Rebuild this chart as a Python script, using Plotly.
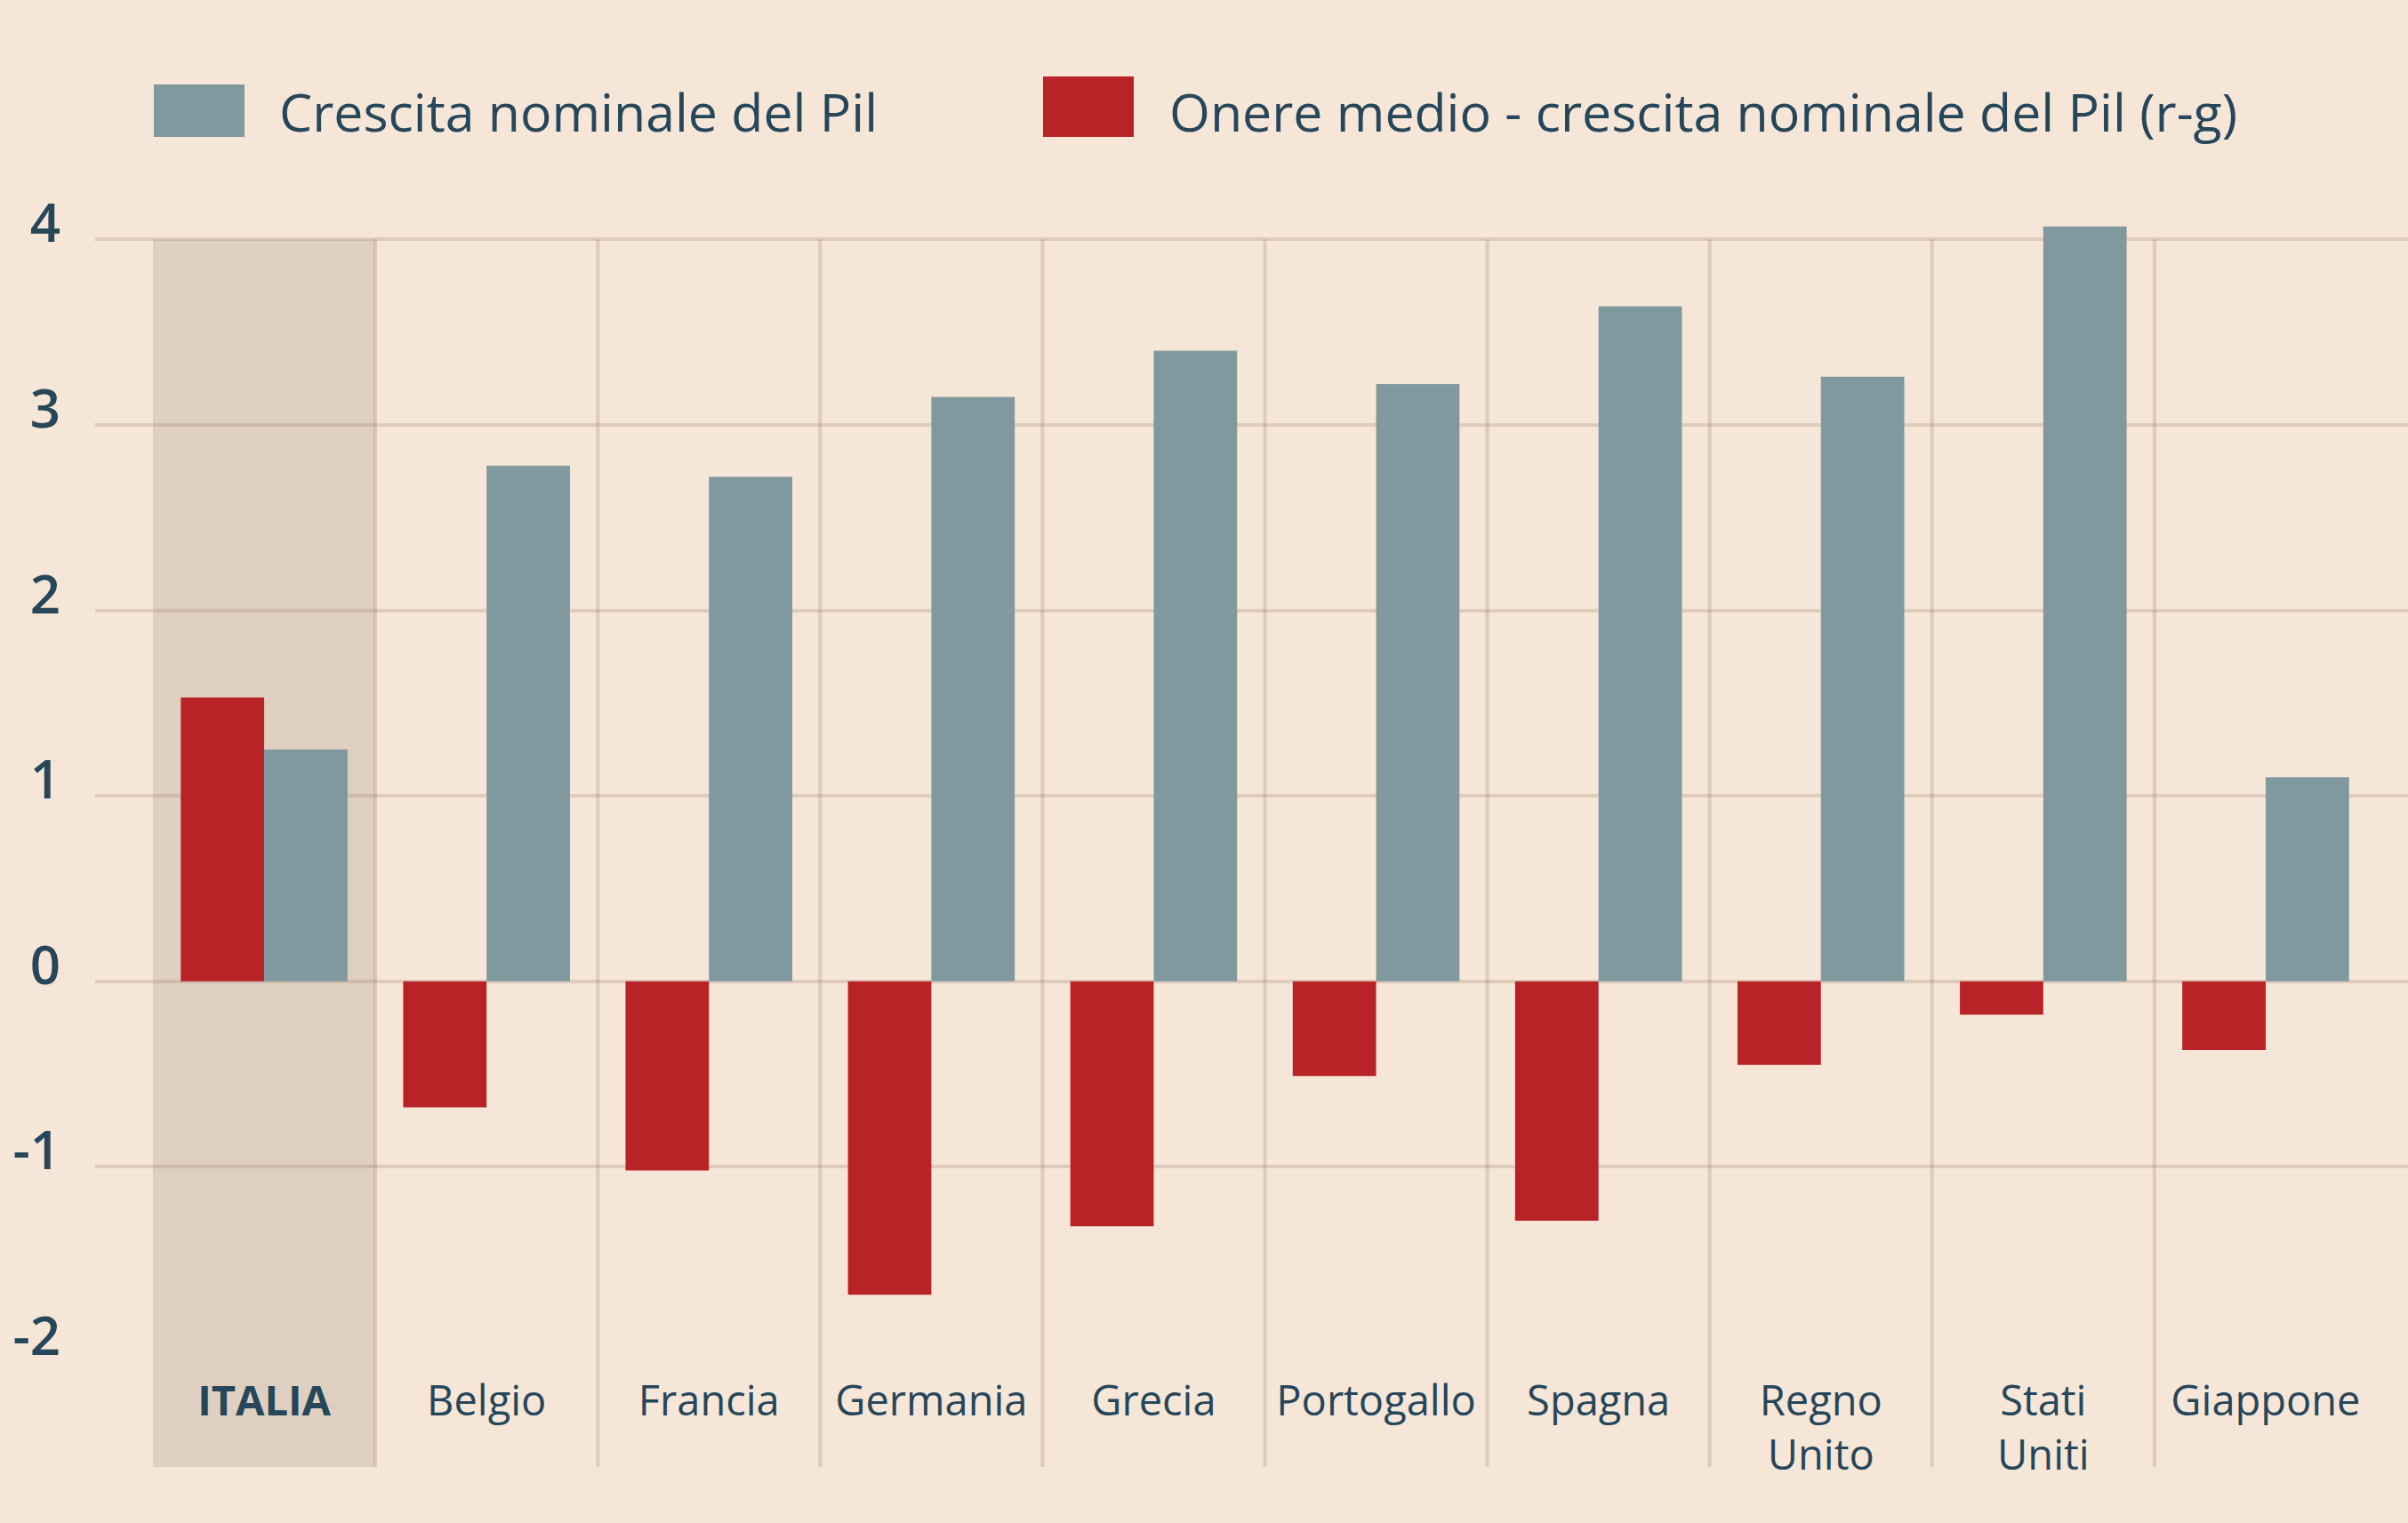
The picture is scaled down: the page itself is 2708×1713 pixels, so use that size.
import plotly.graph_objects as go

categories = ["<b>ITALIA</b>", "Belgio", "Francia", "Germania", "Grecia", "Portogallo",
              "Spagna", "Regno<br>Unito", "Stati<br>Uniti", "Giappone"]
crescita = [1.25, 2.78, 2.72, 3.15, 3.40, 3.22, 3.64, 3.26, 4.07, 1.10]
onere_rg = [1.53, -0.68, -1.02, -1.69, -1.32, -0.51, -1.29, -0.45, -0.18, -0.37]
name_crescita = "Crescita nominale del Pil"
name_onere = "Onere medio - crescita nominale del Pil (r-g)"
y_ticks = [-2, -1, 0, 1, 2, 3, 4]

BG = "#F6E6D7"
TEXT = "#26465A"
GRAY = "#7F999F"
RED = "#B82327"
GRID = "rgba(150,125,105,0.25)"
BAND = "#DFCFC1"
FONT = "Open Sans"

W, H = 2708, 1713
y_min, y_max = -2.0, 4.15
x_min, x_max = -0.76, len(categories) - 1 + 0.64
ml, mr, mt, mb = 107, 0, 238, 192
plot_w = W - ml - mr
plot_h = H - mt - mb

def px_x(p):  # pixel -> paper
    return (p - ml) / plot_w

def px_y(p):
    return (H - mb - p) / plot_h

idx = list(range(len(categories)))

fig = go.Figure()
fig.add_trace(go.Bar(x=idx, y=onere_rg, name=name_onere, marker=dict(color=RED, line=dict(width=0)),
                     showlegend=False))
fig.add_trace(go.Bar(x=idx, y=crescita, name=name_crescita, marker=dict(color=GRAY, line=dict(width=0)),
                     showlegend=False))

# bottom of separators (below tick labels), top at y=4 gridline
sep_bottom = px_y(1650)
sep_top = (max(y_ticks) - y_min) / (y_max - y_min)

shapes = []
# highlighted ITALIA band
shapes.append(dict(type="rect", xref="x", yref="paper", x0=-0.5, x1=0.5, y0=sep_bottom, y1=sep_top,
                   fillcolor=BAND, line=dict(width=0), layer="below"))
# vertical separators between categories
for i in range(len(categories) - 1):
    shapes.append(dict(type="line", xref="x", yref="paper", x0=i + 0.5, x1=i + 0.5,
                       y0=sep_bottom, y1=sep_top, line=dict(color=GRID, width=4), layer="below"))

# custom legend
leg_y0, leg_y1 = px_y(154), px_y(95)
shapes.append(dict(type="rect", xref="paper", yref="paper", x0=px_x(173), x1=px_x(275),
                   y0=leg_y0, y1=leg_y1, fillcolor=GRAY, line=dict(width=0)))
shapes.append(dict(type="rect", xref="paper", yref="paper", x0=px_x(1173), x1=px_x(1275),
                   y0=leg_y0, y1=px_y(86), fillcolor=RED, line=dict(width=0)))

annotations = [
    dict(xref="paper", yref="paper", x=px_x(312), y=px_y(125), text=name_crescita, showarrow=False,
         xanchor="left", yanchor="middle", font=dict(family=FONT, size=59, color=TEXT, weight=500)),
    dict(xref="paper", yref="paper", x=px_x(1313), y=px_y(125), text=name_onere, showarrow=False,
         xanchor="left", yanchor="middle", font=dict(family=FONT, size=59, color=TEXT, weight=500)),
]

fig.update_layout(
    width=W, height=H,
    margin=dict(l=ml, r=mr, t=mt, b=mb, pad=0),
    paper_bgcolor=BG, plot_bgcolor=BG,
    barmode="group", bargap=0.25, bargroupgap=0,
    shapes=shapes, annotations=annotations,
    showlegend=False,
)
fig.update_xaxes(
    range=[x_min, x_max], tickmode="array", tickvals=idx, ticktext=categories,
    showgrid=False, zeroline=False, showline=False, ticks="",
    tickfont=dict(family=FONT, size=47, color=TEXT, weight=500), ticklabelstandoff=23,
)
fig.update_yaxes(
    range=[y_min, y_max], tickmode="array", tickvals=y_ticks, ticktext=[str(v) for v in y_ticks],
    showgrid=True, gridcolor=GRID, gridwidth=4, zeroline=False, showline=False, ticks="",
    ticklabelposition="outside top", ticklabelstandoff=38, ticklabelshift=24,
    tickfont=dict(family=FONT, size=60, color=TEXT, weight=600),
)

fig.write_html("out.html", config={"displayModeBar": False},
               post_script="document.body.style.margin='0';")
